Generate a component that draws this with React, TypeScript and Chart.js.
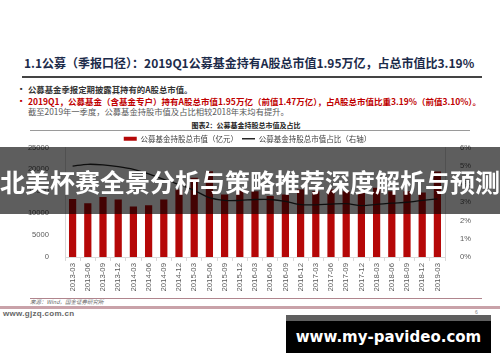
import React, { useEffect, useRef } from 'react';
import { Chart, registerables } from 'chart.js';
Chart.register(...registerables);

const categories = [
  '2013-03', '2013-06', '2013-09', '2013-12',
  '2014-03', '2014-06', '2014-09', '2014-12',
  '2015-03', '2015-06', '2015-09', '2015-12',
  '2016-03', '2016-06', '2016-09', '2016-12',
  '2017-03', '2017-06', '2017-09', '2017-12',
  '2018-03', '2018-06', '2018-09', '2018-12',
  '2019-03',
];

const holdingValue = [
  13250, 12300, 13700, 13100,
  11550, 11800, 13100, 15400,
  18100, 19600, 14250, 15200,
  15000, 13900, 14250, 15400,
  15000, 15400, 15000, 14600,
  15800, 15000, 15000, 14700,
  19500,
];
const holdingRatio = [
  4.98, 5.08, 5.05, 4.95,
  4.8, 4.55, 4.25, 3.98,
  3.65, 3.25, 3.1, 3.1,
  3.15, 3.15, 3.05, 2.87,
  2.86, 2.9, 2.92, 2.82,
  2.88, 2.95, 3.0, 3.1,
  3.19,
];

const seriesLabels = ['公募基金持股总市值（亿元）', '公募基金持股总市值占比（右轴）'];

const SANS = "'Liberation Sans', 'Noto Sans CJK SC', sans-serif";
const CJK = "'Noto Sans CJK SC', 'Liberation Sans', sans-serif";

export default function App() {
  const ref = useRef<HTMLCanvasElement | null>(null);

  useEffect(() => {
    const legendTrim = {
      id: 'legendTrim',
      beforeLayout(chart: any) {
        const lg = chart.legend;
        if (lg && !lg.__trimmed) {
          const f = lg.fit;
          lg.fit = function () {
            f.call(this);
            this.height -= 5;
          };
          lg.__trimmed = true;
        }
      },
    };
    const chart = new Chart(ref.current as HTMLCanvasElement, {
      data: {
        labels: categories,
        datasets: [
          {
            type: 'bar',
            label: seriesLabels[0],
            data: holdingValue,
            backgroundColor: '#b50808',
            yAxisID: 'y',
            categoryPercentage: 0.5,
            barPercentage: 0.95,
            order: 2,
            pointStyle: 'rect',
          } as any,
          {
            type: 'line',
            label: seriesLabels[1],
            data: holdingRatio,
            borderColor: '#262626',
            backgroundColor: '#262626',
            borderWidth: 1.3,
            pointRadius: 0,
            tension: 0.3,
            yAxisID: 'y1',
            order: 1,
            pointStyle: 'line',
          } as any,
        ],
      },
      options: {
        responsive: false,
        animation: false,
        layout: { padding: 0 },
        plugins: {
          legend: {
            position: 'top',
            labels: {
              usePointStyle: true,
              pointStyleWidth: 13,
              boxHeight: 4,
              padding: 4,
              color: '#404040',
              font: { size: 7.5, family: CJK },
              sort: (a: any, b: any) => a.datasetIndex - b.datasetIndex,
            },
          },
          tooltip: { enabled: false },
        },
        scales: {
          x: {
            offset: true,
            grid: {
              display: true,
              drawOnChartArea: false,
              drawTicks: true,
              tickLength: 4,
              color: '#d9d9d9',
              offset: true,
            },
            border: { display: true, color: '#d9d9d9' },
            ticks: {
              minRotation: 90,
              maxRotation: 90,
              autoSkip: false,
              padding: 2,
              color: '#595959',
              font: { size: 7.8, family: SANS },
            },
            afterFit: (s: any) => {
              s.height = 40;
            },
          },
          y: {
            position: 'left',
            min: 0,
            max: 25000,
            grid: { display: false },
            border: { display: true, color: '#d9d9d9' },
            ticks: {
              stepSize: 5000,
              padding: 8,
              color: '#595959',
              font: { size: 7.6, family: SANS },
              callback: (v: any) => String(v),
            },
            afterFit: (s: any) => {
              s.width = 45;
            },
          },
          y1: {
            position: 'right',
            min: 0,
            max: 6,
            grid: { display: false },
            border: { display: true, color: '#d9d9d9' },
            ticks: {
              stepSize: 1,
              padding: 7,
              color: '#595959',
              font: { size: 7.6, family: SANS },
              callback: (v: any) => `${v}%`,
            },
            afterFit: (s: any) => {
              s.width = 30;
            },
          },
        },
      } as any,
      plugins: [legendTrim as any],
    });
    return () => chart.destroy();
  }, []);

  const abs = (o: React.CSSProperties): React.CSSProperties => ({ position: 'absolute', ...o });

  return (
    <div style={{ position: 'absolute', left: 0, top: 0, width: 500, height: 362, background: '#fff', overflow: 'hidden' }}>
      {/* slide title */}
      <div
        style={abs({
          left: 24, top: 55, fontFamily: CJK, fontWeight: 700, fontSize: 12, lineHeight: '16px',
          color: '#1c2b4a', whiteSpace: 'nowrap',
        })}
      >
        1.1公募（季报口径）：2019Q1公募基金持有A股总市值1.95万亿，占总市值比3.19%
      </div>
      <div style={abs({ left: 22, top: 76, width: 460, height: 2, background: '#444' })} />

      {/* bullets */}
      <div style={abs({ left: 20, top: 84, fontSize: 4, lineHeight: '10px', color: '#333' })}>■</div>
      <div style={abs({ left: 28, top: 84, fontFamily: CJK, fontSize: 8.4, fontWeight: 700, lineHeight: '10px', color: '#333', whiteSpace: 'nowrap' })}>
        公募基金季报定期披露其持有的A股总市值。
      </div>
      <div style={abs({ left: 20, top: 96, fontSize: 4, lineHeight: '10px', color: '#c00000' })}>■</div>
      <div style={abs({ left: 28, top: 96, fontFamily: CJK, fontSize: 8.5, fontWeight: 700, lineHeight: '10px', color: '#c00000', whiteSpace: 'nowrap' })}>
        2019Q1，公募基金（含基金专户）持有A股总市值1.95万亿（前值1.47万亿），占A股总市值比重3.19%（前值3.10%）。
      </div>
      <div style={abs({ left: 28, top: 106, fontFamily: CJK, fontSize: 8.3, lineHeight: '10px', color: '#595959', whiteSpace: 'nowrap' })}>
        截至2019年一季度，公募基金持股市值及占比相较2018年末均有提升。
      </div>

      {/* chart title */}
      <div style={abs({ left: 0, width: 492, top: 121, textAlign: 'center', fontFamily: CJK, fontWeight: 700, fontSize: 7, lineHeight: '8px', color: '#222' })}>
        图表2：公募基金持股总市值及占比
      </div>
      <div style={abs({ left: 30, top: 130, width: 440, height: 1, background: '#9a9a9a' })} />

      {/* chart */}
      <canvas ref={ref} width={455} height={166} style={abs({ left: 20, top: 131, width: 455, height: 166 })} />

      {/* source + footer */}
      <div style={abs({ left: 30, top: 298, width: 452, height: 1, background: '#b0858d' })} />
      <div style={abs({ left: 30, top: 299, fontFamily: CJK, fontStyle: 'italic', fontSize: 5.5, lineHeight: '7px', color: '#666', whiteSpace: 'nowrap' })}>
        来源：Wind，国金证券研究所
      </div>
      <div style={abs({ left: 0, top: 306, width: 500, height: 3, background: '#c9a2a9' })} />
      <div style={abs({ left: 3, top: 309, fontFamily: SANS, fontWeight: 700, fontSize: 8, lineHeight: '9px', color: '#666', letterSpacing: 0.3, whiteSpace: 'nowrap' })}>
        www.gjzq.com.cn
      </div>
      <div style={abs({ left: 475, top: 309, fontFamily: SANS, fontSize: 5, lineHeight: '6px', color: '#888' })}>6</div>

      {/* overlay banner */}
      <div
        style={abs({
          left: 0, top: 147, width: 500, height: 67, background: 'rgba(0,0,0,0.63)',
          display: 'flex', alignItems: 'center', justifyContent: 'center',
        })}
      >
        <span style={{ fontFamily: CJK, fontWeight: 700, fontSize: 25, lineHeight: '30px', color: '#fff', whiteSpace: 'nowrap' }}>
          北美杯赛全景分析与策略推荐深度解析与预测
        </span>
      </div>

      {/* watermark */}
      <div style={abs({ left: 286, top: 315, width: 205, height: 6, background: '#5f5f5f' })} />
      <div
        style={abs({
          left: 286, top: 321, width: 205, height: 32, background: '#000',
          display: 'flex', alignItems: 'center', justifyContent: 'center',
        })}
      >
        <span style={{ fontFamily: "'DejaVu Sans', sans-serif", fontWeight: 700, fontSize: 15, color: '#fff', whiteSpace: 'nowrap' }}>
          www.my-pavideo.com
        </span>
      </div>
    </div>
  );
}
